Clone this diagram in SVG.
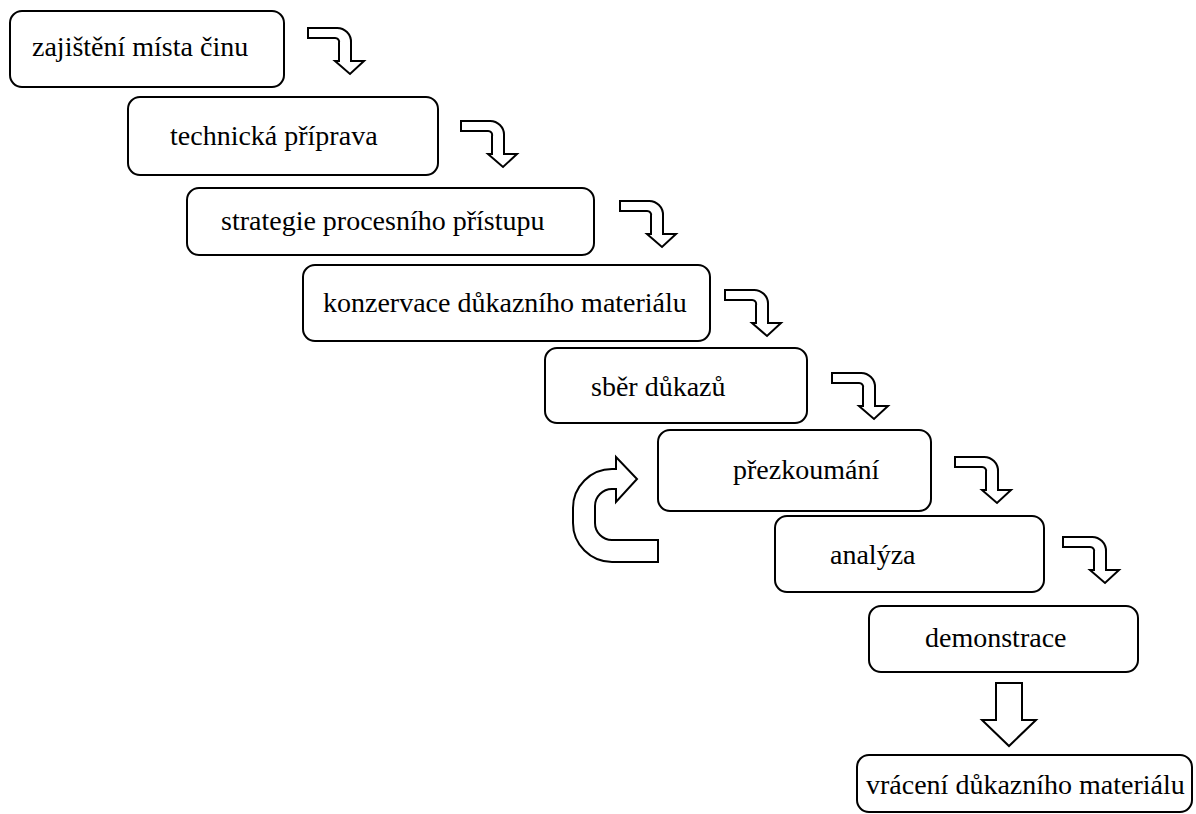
<svg xmlns="http://www.w3.org/2000/svg" width="1196" height="814" viewBox="0 0 1196 814">
<style>
.box{fill:#fff;stroke:#000;stroke-width:2}
.lbl{font-family:"Liberation Serif","Times New Roman",serif;font-size:28px;fill:#000}
.arr{fill:#fff;stroke:#000;stroke-width:2;stroke-linejoin:miter}
</style>
<defs>
<path id="bent" d="M0,0 H28 A14,14 0 0 1 43,15 V33 H56 L42,46 L27,33 H31 V15 A4,4 0 0 0 27,10 H0 Z"/>
</defs>
<rect width="1196" height="814" fill="#fff"/>
<g id="n1"><rect class="box" x="10" y="11" width="274" height="76" rx="12"/><text class="lbl" x="32" y="56">zajištění místa činu</text></g>
<g id="n2"><rect class="box" x="128" y="97" width="310" height="78" rx="12"/><text class="lbl" x="170" y="145">technická příprava</text></g>
<g id="n3"><rect class="box" x="187" y="188" width="407" height="67" rx="12"/><text class="lbl" x="221" y="230">strategie procesního přístupu</text></g>
<g id="n4"><rect class="box" x="303" y="265" width="407" height="76" rx="12"/><text class="lbl" x="323" y="312">konzervace důkazního materiálu</text></g>
<g id="n5"><rect class="box" x="545" y="348" width="262" height="75" rx="12"/><text class="lbl" x="591" y="396">sběr důkazů</text></g>
<g id="n6"><rect class="box" x="658" y="430" width="273" height="81" rx="12"/><text class="lbl" x="733" y="479">přezkoumání</text></g>
<g id="n7"><rect class="box" x="775" y="516" width="269" height="76" rx="12"/><text class="lbl" x="830" y="564">analýza</text></g>
<g id="n8"><rect class="box" x="869" y="606" width="269" height="66" rx="12"/><text class="lbl" x="925" y="647">demonstrace</text></g>
<g id="n9"><rect class="box" x="857" y="755" width="335" height="57" rx="12"/><text class="lbl" x="866" y="794">vrácení důkazního materiálu</text></g>
<g id="connectors">
<use href="#bent" class="arr" x="308" y="28"/>
<use href="#bent" class="arr" x="461" y="121"/>
<use href="#bent" class="arr" x="620" y="201"/>
<use href="#bent" class="arr" x="725" y="290"/>
<use href="#bent" class="arr" x="832" y="373"/>
<use href="#bent" class="arr" x="955" y="457"/>
<use href="#bent" class="arr" x="1063" y="537"/>
<path class="arr" d="M658,540 H612 A17,17 0 0 1 595,523 V506 A17,17 0 0 1 612,489 H616 V502 L637,479 L616,457 V469 H612 A39,39 0 0 0 573,508 V523 A39,39 0 0 0 612,562 H658 Z"/>
<path class="arr" d="M996,683 H1022 V720 H1036 L1009,746 L982,720 H996 Z"/>
</g>
</svg>
